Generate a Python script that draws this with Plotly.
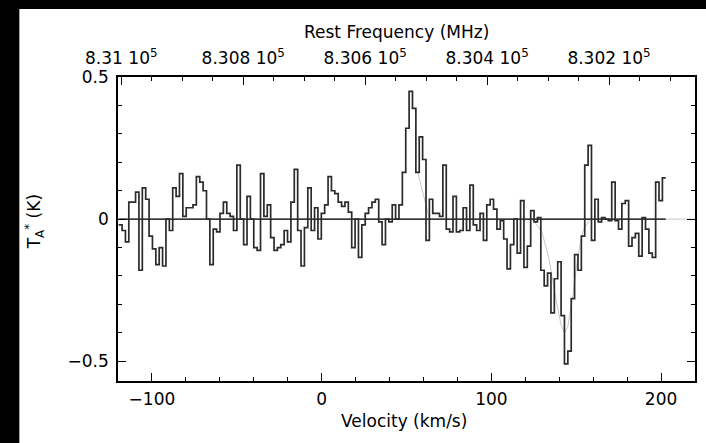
import numpy as np
import plotly.graph_objects as go

# ---------------- data ----------------
V_START = -119.6          # km/s, left edge of first channel
DV = 1.99                 # km/s, channel width
TA = [
    -0.02, -0.04, -0.08, 0.06, 0.06, 0.095, -0.18, 0.11, 0.07, -0.06,
    -0.105, -0.16, -0.10, -0.165, 0.00, -0.04, 0.11, 0.08, 0.16, 0.01,
    0.04, 0.04, 0.05, 0.15, 0.13, 0.10, 0.00, -0.16, -0.035, -0.045,
    0.02, 0.06, 0.02, 0.01, -0.04, 0.19, 0.00, -0.09, 0.08, 0.00,
    -0.10, -0.11, 0.16, 0.01, 0.05, -0.065, -0.11, -0.10, -0.09, -0.04,
    -0.08, 0.06, 0.175, -0.04, -0.165, -0.03, 0.11, -0.04, 0.04, -0.07,
    0.02, 0.05, 0.15, 0.10, 0.09, 0.06, 0.045, 0.06, 0.025, -0.10,
    0.00, -0.135, -0.02, 0.02, 0.04, 0.06, 0.07, -0.01, -0.09, 0.00,
    -0.01, 0.05, 0.00, 0.05, 0.165, 0.32, 0.45, 0.39, 0.165, 0.29,
    0.21, -0.075, 0.07, 0.02, 0.02, 0.01, 0.19, -0.035, -0.045, 0.08,
    -0.045, -0.04, 0.04, -0.04, 0.12, -0.02, -0.04, 0.02, -0.075, 0.05,
    0.07, 0.035, -0.035, -0.005, -0.07, -0.175, -0.09, 0.00, -0.12, 0.065,
    -0.17, -0.095, 0.03, -0.01, 0.005, -0.18, -0.235, -0.19, -0.33, -0.21,
    -0.15, -0.34, -0.51, -0.465, -0.28, -0.125, -0.18, -0.06, 0.19, 0.26,
    -0.075, 0.07, -0.01, 0.005, 0.00, -0.005, 0.13, -0.005, -0.035, 0.055,
    0.065, -0.095, -0.065, -0.05, -0.13, 0.005, -0.035, -0.12, -0.135, 0.13,
    0.065, 0.145,
]

# faint fitted profile pieces (None separates pieces)
FIT_V = [-120, 220, None, 56.6, 63.6, None, 124, 128, 130, 134, 138,
         141, 143, 145, 148, 151, 154, 158]
FIT_T = [0, 0, None, 0.165, 0, None, 0, -0.03, -0.05,
         -0.14, -0.28, -0.37, -0.40, -0.38, -0.27, -0.13, -0.04, 0]

X_RANGE = [-120, 220]
Y_RANGE = [-0.57, 0.5005]
X_TICKS = [-100, 0, 100, 200]
Y_TICKS = [-0.5, 0, 0.5]
Y_TICKTEXT = ["\u22120.5", "0", "0.5"]

FREQ_RANGE = [831005.4, 830059.0]   # MHz at left / right frame edges
FREQ_TICKS = [831000, 830800, 830600, 830400, 830200]
FREQ_TICKTEXT = ["8.31 10<sup>5</sup>", "8.308 10<sup>5</sup>", "8.306 10<sup>5</sup>",
                 "8.304 10<sup>5</sup>", "8.302 10<sup>5</sup>"]

# ---------------- figure ----------------
edges = V_START + DV * np.arange(len(TA) + 1)
yvals = TA + [TA[-1]]

W, H = 706, 443
L, R, T, B = 118, 9, 77, 62
pw, ph = W - L - R, H - T - B

def px(x):
    return (x - L) / pw

def py(y):
    return (H - B - y) / ph

FONT = "DejaVu Sans"

fig = go.Figure()
fig.add_trace(go.Scatter(x=FIT_V, y=FIT_T, mode="lines", connectgaps=False,
                         line=dict(color="#c8c8c8", width=1),
                         hoverinfo="skip", showlegend=False))
fig.add_trace(go.Scatter(x=[edges[0], edges[-1]], y=[0, 0], mode="lines",
                         line=dict(color="black", width=1.2),
                         hoverinfo="skip", showlegend=False))
fig.add_trace(go.Scatter(x=edges, y=yvals, mode="lines", line_shape="hv",
                         line=dict(color="#2b2b2b", width=1.7),
                         showlegend=False))
fig.add_trace(go.Scatter(x=FREQ_RANGE, y=[0, 0], xaxis="x2", mode="markers",
                         marker=dict(opacity=0), hoverinfo="skip", showlegend=False))

tickfont = dict(family=FONT, size=17, color="black")

fig.update_layout(
    width=W, height=H,
    margin=dict(l=L, r=R, t=T, b=B, pad=0),
    paper_bgcolor="black", plot_bgcolor="white",
    font=dict(family=FONT, size=17, color="black"),
    shapes=[dict(type="rect", xref="paper", yref="paper", layer="below",
                 x0=px(19), x1=px(W + 20), y0=py(H + 20), y1=py(9),
                 fillcolor="white", line=dict(width=0))],
    xaxis=dict(range=X_RANGE, tickvals=X_TICKS, ticks="inside", ticklen=8,
               tickwidth=1.3, tickcolor="black", showline=True, linecolor="black",
               linewidth=1.6, mirror=False, showgrid=False, zeroline=False,
               tickfont=tickfont, ticklabelstandoff=2,
               minor=dict(dtick=20, tick0=0, ticks="inside", ticklen=4,
                          tickwidth=1.2, tickcolor="black", showgrid=False)),
    xaxis2=dict(range=FREQ_RANGE, overlaying="x", side="top", anchor="y",
                tickvals=FREQ_TICKS, ticktext=FREQ_TICKTEXT, ticks="inside",
                ticklen=8, tickwidth=1.3, tickcolor="black", showline=True,
                linecolor="black", linewidth=1.6, showgrid=False, zeroline=False,
                tickfont=tickfont, ticklabelstandoff=4,
                minor=dict(dtick=50, tick0=830000, ticks="inside", ticklen=4,
                           tickwidth=1.2, tickcolor="black", showgrid=False)),
    yaxis=dict(range=Y_RANGE, tickvals=Y_TICKS, ticktext=Y_TICKTEXT,
               ticks="inside", ticklen=8, tickwidth=1.3, tickcolor="black",
               showline=True, linecolor="black", linewidth=1.6, mirror="ticks",
               showgrid=False, zeroline=False, tickfont=tickfont,
               ticklabelstandoff=4,
               minor=dict(dtick=0.1, tick0=0, ticks="inside", ticklen=4,
                          tickwidth=1.2, tickcolor="black", showgrid=False)),
    annotations=[
        dict(text="Velocity (km/s)", xref="paper", yref="paper",
             x=px(405), y=py(421), xanchor="center", yanchor="middle",
             showarrow=False, font=dict(family=FONT, size=17, color="black")),
        dict(text="Rest Frequency (MHz)", xref="paper", yref="paper",
             x=px(397), y=py(32), xanchor="center", yanchor="middle",
             showarrow=False, font=dict(family=FONT, size=17, color="black")),
        dict(text="T<sub>A</sub><sup>*</sup> (K)", xref="paper", yref="paper",
             x=px(34), y=py(222), xanchor="center", yanchor="middle",
             textangle=-90, showarrow=False,
             font=dict(family=FONT, size=17, color="black")),
    ],
)

fig.write_html("out.html")
